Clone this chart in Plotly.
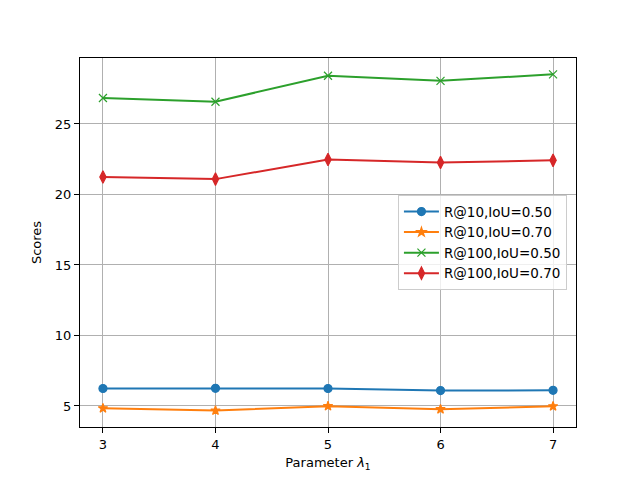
import plotly.graph_objects as go

x_vals = [3, 4, 5, 6, 7]
series_names = ["R@10,IoU=0.50", "R@10,IoU=0.70", "R@100,IoU=0.50", "R@100,IoU=0.70"]
r10_iou50 = [6.24, 6.25, 6.24, 6.09, 6.11]
r10_iou70 = [4.84, 4.68, 4.99, 4.77, 4.98]
r100_iou50 = [26.84, 26.58, 28.42, 28.06, 28.52]
r100_iou70 = [21.24, 21.09, 22.48, 22.27, 22.42]
y_ticks = [5, 10, 15, 20, 25]

colors = ["#1f77b4", "#ff7f0e", "#2ca02c", "#d62728"]
symbols = ["circle", "star", "x-thin", "diamond-tall"]
sizes = [8, 7, 8, 9]
data = [r10_iou50, r10_iou70, r100_iou50, r100_iou70]

fig = go.Figure()
for name, ys, c, s, sz in zip(series_names, data, colors, symbols, sizes):
    fig.add_trace(go.Scatter(
        x=x_vals, y=ys, name=name, mode="lines+markers",
        line=dict(color=c, width=2),
        marker=dict(symbol=s, size=sz, color=c, line=dict(color=c, width=1.2)),
    ))

axis_common = dict(
    showline=True, linecolor="black", linewidth=1, mirror=True,
    ticks="outside", ticklen=5, tickcolor="black", tickwidth=1,
    showgrid=True, gridcolor="#b0b0b0", gridwidth=1, zeroline=False,
    tickfont=dict(size=13, color="black"),
)

fig.update_layout(
    width=640, height=480,
    margin=dict(l=72, r=72, t=50, b=61),
    paper_bgcolor="white", plot_bgcolor="white",
    font=dict(family="DejaVu Sans", size=13, color="black"),
    showlegend=True,
    legend=dict(
        x=0.641, y=0.628, xanchor="left", yanchor="top",
        bgcolor="rgba(255,255,255,0.8)", bordercolor="#cccccc", borderwidth=1,
        font=dict(size=13.5), tracegroupgap=0, itemwidth=35,
    ),
    xaxis=dict(range=[2.796, 7.204], tickvals=x_vals,
               title=dict(text="Parameter <i>λ</i><sub>1</sub>", standoff=7, font=dict(size=13)),
               **axis_common),
    yaxis=dict(range=[3.51, 29.68], tickvals=y_ticks,
               title=dict(text="Scores", standoff=10, font=dict(size=13)),
               **axis_common),
)

fig.write_html("out.html")
